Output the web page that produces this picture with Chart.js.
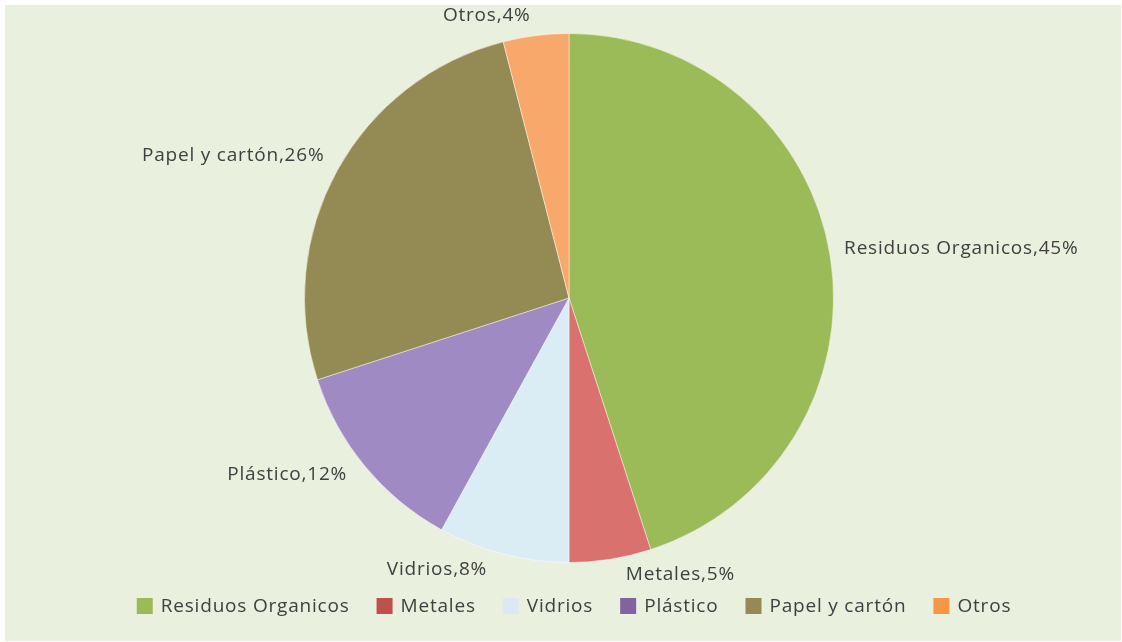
<!DOCTYPE html>
<html>
<head>
<meta charset="utf-8">
<script src="https://cdn.jsdelivr.net/npm/chart.js@4.4.1/dist/chart.umd.min.js"></script>
<style>
  html, body { margin: 0; padding: 0; background: #ffffff; }
  #wrap { position: absolute; left: 5px; top: 5px; width: 1116px; height: 636px; background: #e9f0dd; }
</style>
</head>
<body>
<div id="wrap"><canvas id="chart"></canvas></div>
<script>
// data, clockwise from the top
const categories = ['Residuos Organicos', 'Metales', 'Vidrios', 'Plástico', 'Papel y cartón', 'Otros'];
const percents = [45, 5, 8, 12, 26, 4];
const sliceColors = ['#9bbb59', '#d9716e', '#dbedf4', '#a08ac3', '#948a54', '#f9a86c'];
const legendColors = ['#9bbb59', '#c0504d', '#dce9f5', '#8064a2', '#948a54', '#f79646'];

const FONT = '19px "Open Sans"';
const SPACING = '0.8px';
const TEXT = '#404040';

// outside labels "Name,NN%"
const sliceLabels = {
    id: 'sliceLabels',
    afterDatasetsDraw(chart) {
        const ctx = chart.ctx;
        const meta = chart.getDatasetMeta(0);
        ctx.save();
        ctx.font = FONT;
        ctx.letterSpacing = SPACING;
        ctx.fillStyle = TEXT;
        ctx.textBaseline = 'middle';
        meta.data.forEach(function (arc, i) {
            const mid = (arc.startAngle + arc.endAngle) / 2;
            const r = arc.outerRadius + 10;
            const px = arc.x + Math.cos(mid) * r;
            const py = arc.y + Math.sin(mid) * r;
            const right = Math.cos(mid) >= 0;
            ctx.textAlign = right ? 'left' : 'right';
            // labels under the pie sit a bit further out
            const dx = 4 + 10 * Math.max(0, Math.sin(mid));
            const dy = Math.sin(mid) * 11 - 5;
            const y = Math.max(py + dy, 11);
            ctx.fillText(categories[i] + ',' + percents[i] + '%', px + (right ? dx : -dx), y);
        });
        ctx.restore();
    }
};

// legend drawn by hand so it sits where the original has it
const bottomLegend = {
    id: 'bottomLegend',
    afterDraw(chart) {
        const ctx = chart.ctx;
        const box = 16, gapText = 8, gapItem = 27;
        ctx.save();
        ctx.font = FONT;
        ctx.letterSpacing = SPACING;
        const widths = categories.map(c => ctx.measureText(c).width);
        let total = 0;
        widths.forEach(function (w, i) {
            total += box + gapText + w + (i < widths.length - 1 ? gapItem : 0);
        });
        const cx = chart.getDatasetMeta(0).data[0].x + 5;
        const y = chart.height - 35;
        let x = cx - total / 2;
        ctx.textBaseline = 'middle';
        ctx.textAlign = 'left';
        categories.forEach(function (c, i) {
            ctx.fillStyle = legendColors[i];
            ctx.fillRect(x, y - box / 2, box, box);
            ctx.fillStyle = TEXT;
            ctx.fillText(c, x + box + gapText, y + 1);
            x += box + gapText + widths[i] + gapItem;
        });
        ctx.restore();
    }
};

new Chart(document.getElementById('chart'), {
    type: 'pie',
    data: {
        labels: categories,
        datasets: [{
            data: percents,
            backgroundColor: sliceColors,
            borderColor: 'rgba(255,255,255,0.45)',
            borderWidth: 1
        }]
    },
    options: {
        responsive: true,
        maintainAspectRatio: false,
        animation: false,
        layout: { padding: { top: 28, bottom: 78, left: 12, right: 0 } },
        plugins: {
            legend: { display: false },
            tooltip: { enabled: false }
        }
    },
    plugins: [sliceLabels, bottomLegend]
});
</script>
</body>
</html>
